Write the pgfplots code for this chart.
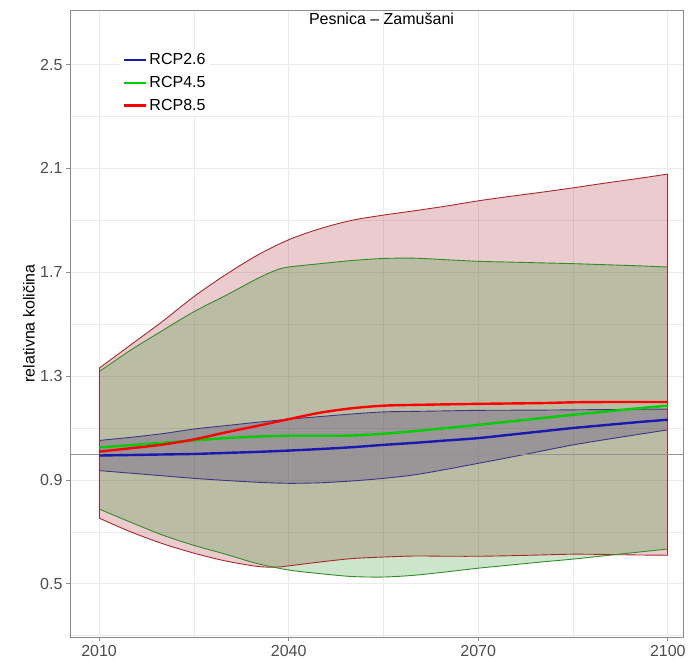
\documentclass[border=0pt]{standalone}
\usepackage{pgfplots}
\pgfplotsset{compat=1.18}
\usepgfplotslibrary{fillbetween}
\usepackage{fontspec}
\setmainfont{Liberation Sans}
\definecolor{rfill}{RGB}{150,0,10}
\definecolor{gfill}{RGB}{0,128,0}
\definecolor{bfill}{RGB}{50,30,110}
\definecolor{rline}{RGB}{170,40,45}
\definecolor{gline}{RGB}{50,140,40}
\definecolor{bline}{RGB}{60,55,130}
\definecolor{bmed}{RGB}{25,25,175}
\definecolor{gmed}{RGB}{0,205,0}
\definecolor{rmed}{RGB}{255,0,0}
\definecolor{axgray}{RGB}{140,140,140}
\definecolor{ticklab}{RGB}{77,77,77}
\definecolor{gridc}{RGB}{235,235,235}
\begin{document}
\begin{tikzpicture}
\begin{axis}[
  at={(70pt,23pt)}, anchor=south west,
  width=613pt, height=627pt, scale only axis,
  xmin=2005.4, xmax=2102.4, ymin=0.295, ymax=2.71,
  xtick={2010,2040,2070,2100},
  minor xtick={2025,2055,2085},
  ytick={0.5,0.9,1.3,1.7,2.1,2.5},
  minor ytick={0.3,0.7,1.1,1.5,1.9,2.3},
  grid=both,
  major grid style={gridc, line width=0.8pt},
  minor grid style={gridc, line width=0.5pt},
  axis line style={axgray, line width=0.9pt},
  tick align=outside, xtick pos=lower, ytick pos=left,
  major tick length=4pt, minor tick length=0pt,
  tick style={axgray, line width=0.8pt},
  tick label style={font=\fontsize{16}{18}\selectfont, text=ticklab},
  /pgf/number format/assume math mode=true,
  xticklabel style={yshift=-1pt, /pgf/number format/set thousands separator={}},
  yticklabel style={/pgf/number format/.cd, fixed, fixed zerofill, precision=1},
  ylabel={relativna količina},
  ylabel style={at={(axis description cs:-0.0669,0.5)}, anchor=center, font=\fontsize{16}{18}\selectfont},
  title={Pesnica – Zamušani},
  title style={at={(0.5,1)}, anchor=north, yshift=-5pt, xshift=5pt, font=\fontsize{16}{18}\selectfont},
  legend style={at={(0.083,0.937)}, anchor=north west, draw=none, fill=white,
    font=\fontsize{16}{18}\selectfont, row sep=6pt, inner sep=2pt},
  legend cell align=left,
  legend image code/.code={\draw[#1, line width=2.2pt] (0pt,0pt) -- (18pt,0pt); \path (0pt,0pt) -- (22pt,0pt);},
]
% RCP8.5 band
\addplot [name path=ru, draw=rline, line width=0.9pt, smooth, forget plot] coordinates {
(2010,1.330) (2015,1.42) (2020,1.51) (2025,1.606) (2030,1.69) (2035,1.765) (2040,1.825) (2045,1.868) (2050,1.900) (2055,1.920) (2060,1.937) (2065,1.955) (2070,1.975) (2075,1.992) (2080,2.008) (2085,2.025) (2090,2.043) (2095,2.060) (2100,2.078)};
\addplot [name path=rl, draw=rline, line width=0.9pt, smooth, forget plot] coordinates {
(2010,0.753) (2015,0.70) (2020,0.655) (2025,0.618) (2030,0.588) (2035,0.567) (2038,0.564) (2040,0.569) (2045,0.584) (2050,0.597) (2055,0.603) (2060,0.607) (2065,0.606) (2070,0.606) (2075,0.608) (2080,0.611) (2085,0.614) (2090,0.613) (2095,0.611) (2100,0.610)};
\addplot [rfill, fill opacity=0.2, draw=none, forget plot] fill between [of=ru and rl];
% RCP4.5 band
\addplot [name path=gu, draw=gline, line width=0.9pt, smooth, forget plot] coordinates {
(2010,1.317) (2015,1.40) (2020,1.475) (2025,1.548) (2030,1.61) (2035,1.675) (2038,1.708) (2040,1.72) (2045,1.733) (2050,1.745) (2055,1.753) (2060,1.754) (2065,1.748) (2070,1.742) (2075,1.739) (2080,1.736) (2085,1.733) (2090,1.729) (2095,1.725) (2100,1.72)};
\addplot [name path=gl, draw=gline, line width=0.9pt, smooth, forget plot] coordinates {
(2010,0.788) (2015,0.737) (2020,0.688) (2025,0.648) (2030,0.614) (2035,0.578) (2040,0.553) (2045,0.539) (2050,0.528) (2055,0.526) (2060,0.533) (2065,0.546) (2070,0.56) (2075,0.572) (2080,0.584) (2085,0.595) (2090,0.608) (2095,0.621) (2100,0.634)};
\addplot [gfill, fill opacity=0.2, draw=none, forget plot] fill between [of=gu and gl];
% RCP2.6 band
\addplot [name path=bu, draw=bline, line width=0.9pt, smooth, forget plot] coordinates {
(2010,1.052) (2015,1.064) (2020,1.078) (2025,1.096) (2030,1.109) (2035,1.122) (2040,1.134) (2045,1.144) (2050,1.154) (2055,1.162) (2060,1.164) (2065,1.166) (2070,1.168) (2080,1.169) (2085,1.170) (2090,1.171) (2100,1.173)};
\addplot [name path=bl, draw=bline, line width=0.9pt, smooth, forget plot] coordinates {
(2010,0.936) (2015,0.926) (2020,0.916) (2025,0.906) (2030,0.898) (2035,0.891) (2040,0.887) (2045,0.889) (2050,0.896) (2055,0.906) (2060,0.92) (2065,0.941) (2070,0.964) (2075,0.987) (2080,1.011) (2085,1.035) (2090,1.055) (2095,1.074) (2100,1.093)};
\addplot [bfill, fill opacity=0.24, draw=none, forget plot] fill between [of=bu and bl];
% vertical edges
\addplot [rline, line width=0.9pt, forget plot] coordinates {(2010,0.753) (2010,1.330)};
\addplot [rline, line width=0.9pt, forget plot] coordinates {(2100,0.610) (2100,2.078)};
% reference line
\addplot [gray!85, line width=0.9pt, forget plot] coordinates {(2005.4,1.0) (2102.4,1.0)};
% medians
\addplot [bmed, line width=2.4pt, smooth] coordinates {
(2010,0.994) (2015,0.996) (2020,0.998) (2025,1.0) (2030,1.004) (2035,1.008) (2040,1.013) (2045,1.019) (2050,1.026) (2055,1.035) (2060,1.043) (2065,1.052) (2070,1.061) (2075,1.074) (2080,1.087) (2085,1.1) (2090,1.111) (2095,1.122) (2100,1.132)};
\addlegendentry{RCP2.6}
\addplot [gmed, line width=2.4pt, smooth] coordinates {
(2010,1.025) (2015,1.034) (2020,1.043) (2025,1.052) (2030,1.061) (2035,1.067) (2040,1.07) (2045,1.07) (2050,1.071) (2055,1.078) (2060,1.088) (2065,1.1) (2070,1.112) (2075,1.125) (2080,1.138) (2085,1.151) (2090,1.163) (2095,1.175) (2100,1.186)};
\addlegendentry{RCP4.5}
\addplot [rmed, line width=2.4pt, smooth] coordinates {
(2010,1.009) (2015,1.022) (2020,1.036) (2025,1.056) (2030,1.083) (2035,1.108) (2040,1.134) (2045,1.159) (2050,1.176) (2055,1.186) (2060,1.189) (2070,1.193) (2080,1.196) (2085,1.199) (2090,1.2) (2100,1.2)};
\addlegendentry{RCP8.5}
\end{axis}
\path (0pt,0pt) rectangle (695pt,660pt);
\end{tikzpicture}
\end{document}
